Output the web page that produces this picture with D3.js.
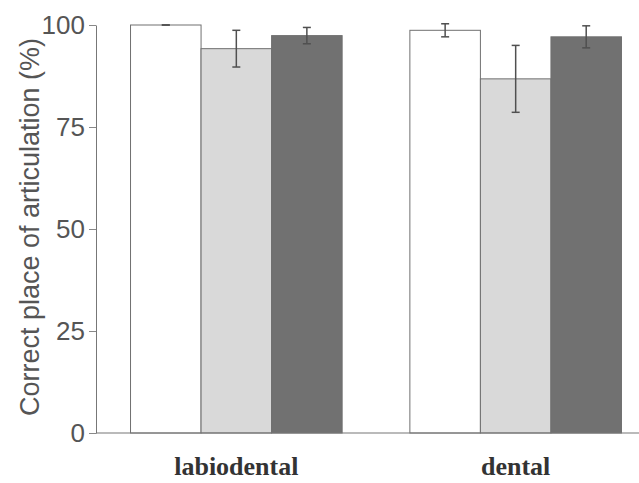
<!DOCTYPE html>
<html>
<head>
<meta charset="utf-8">
<script src="https://cdn.jsdelivr.net/npm/d3@7"></script>
<style>
  body { margin: 0; background: #fff; }
  svg { display: block; }
</style>
</head>
<body>
<svg id="chart"></svg>
<script>
let width = 639;
let height = 483;

// categories and the three conditions (no legend in the figure)
let categories = ["labiodental", "dental"];
let conditions = ["condition1", "condition2", "condition3"];
let colors = ["#ffffff", "#d9d9d9", "#717171"];

// mean % correct, one array per condition (labiodental, dental)
let cond1Values = [100, 98.7];
let cond2Values = [94.2, 86.8];
let cond3Values = [97.4, 97.1];

// error bar half lengths
let cond1Err = [0, 1.6];
let cond2Err = [4.5, 8.2];
let cond3Err = [2.0, 2.7];

let yTicks = [0, 25, 50, 75, 100];

let values = [cond1Values, cond2Values, cond3Values];
let errs = [cond1Err, cond2Err, cond3Err];

let svg = d3.select("#chart")
    .attr("width", width)
    .attr("height", height);

let y = d3.scaleLinear()
    .domain([0, 100])
    .range([433, 25]);

let x0 = d3.scaleBand()
    .domain(categories)
    .range([96, 656])
    .paddingInner(0.2425)
    .paddingOuter(0.1236);

let x1 = d3.scaleBand()
    .domain(conditions)
    .range([0, x0.bandwidth()]);

// flatten for drawing
let rows = [];
categories.forEach(function (c, i) {
    conditions.forEach(function (k, j) {
        rows.push({cat: c, cond: k, value: values[j][i], err: errs[j][i], color: colors[j]});
    });
});

let bars = svg.append("g");
bars.selectAll("rect")
    .data(rows)
    .enter().append("rect")
    .attr("x", d => x0(d.cat) + x1(d.cond))
    .attr("y", d => y(d.value))
    .attr("width", x1.bandwidth())
    .attr("height", d => y(0) - y(d.value))
    .attr("fill", d => d.color)
    .attr("stroke", "#707070")
    .attr("stroke-width", 1);

// error bars
let eb = svg.append("g")
    .attr("stroke", "#505050")
    .attr("stroke-width", 1.5);
rows.forEach(function (d) {
    let cx = x0(d.cat) + x1(d.cond) + x1.bandwidth() / 2;
    let top = y(d.value + d.err);
    let bot = y(d.value - d.err);
    eb.append("line").attr("x1", cx).attr("x2", cx).attr("y1", top).attr("y2", bot);
    eb.append("line").attr("x1", cx - 4).attr("x2", cx + 4).attr("y1", top).attr("y2", top);
    eb.append("line").attr("x1", cx - 4).attr("x2", cx + 4).attr("y1", bot).attr("y2", bot);
});

// y axis
let yAxis = svg.append("g")
    .attr("transform", "translate(96,0)")
    .call(d3.axisLeft(y).tickValues(yTicks).tickSize(7).tickSizeOuter(0).tickPadding(4));
yAxis.select(".domain").attr("stroke", "#777");
yAxis.selectAll(".tick line").attr("stroke", "#888");
yAxis.selectAll(".tick text")
    .attr("font-family", "'Liberation Sans', Arial, sans-serif")
    .attr("font-size", 26)
    .attr("fill", "#555");

// baseline
svg.append("line")
    .attr("x1", 96).attr("x2", width)
    .attr("y1", y(0)).attr("y2", y(0))
    .attr("stroke", "#777")
    .attr("stroke-width", 1.2);

// category labels
svg.append("g").selectAll("text")
    .data(categories)
    .enter().append("text")
    .attr("x", d => x0(d) + x0.bandwidth() / 2)
    .attr("y", 475)
    .attr("text-anchor", "middle")
    .attr("font-family", "'Liberation Serif', 'Times New Roman', serif")
    .attr("font-weight", "bold")
    .attr("font-size", 26)
    .attr("fill", "#333")
    .text(d => d);

// y label
svg.append("text")
    .attr("transform", "translate(39,227) rotate(-90)")
    .attr("text-anchor", "middle")
    .attr("font-family", "'Liberation Sans', Arial, sans-serif")
    .attr("font-size", 27)
    .attr("fill", "#555")
    .text("Correct place of articulation (%)");
</script>
</body>
</html>
